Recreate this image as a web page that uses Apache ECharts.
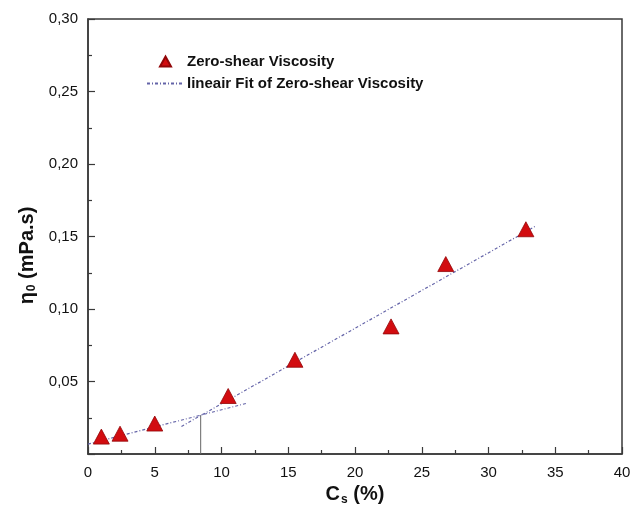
<!DOCTYPE html>
<html>
<head>
<meta charset="utf-8">
<script src="https://cdn.jsdelivr.net/npm/echarts@6/dist/echarts.min.js"></script>
<style>
  html, body { margin: 0; padding: 0; background: #fff; }
  #chart { width: 644px; height: 517px; }
</style>
</head>
<body>
<div id="chart"></div>
<script>
// Measured zero-shear viscosity against salt concentration
const cs = [1, 2.4, 5, 10.5, 15.5, 22.7, 26.8, 32.8];
const eta = [0.012, 0.014, 0.021, 0.040, 0.065, 0.088, 0.131, 0.155];

// Linear fit segments (high and low concentration ranges)
const fitHighX = [7, 33.5];
const fitHighY = [0.019, 0.157];
const fitLowX = [0, 11.9];
const fitLowY = [0.0068, 0.035];

// Crossover marker dropped to the x axis
const crossX = [8.44, 8.44];
const crossY = [0, 0.0267];

const xTicks = [0, 5, 10, 15, 20, 25, 30, 35, 40];
const yTicks = [0, 0.05, 0.10, 0.15, 0.20, 0.25, 0.30];

const pairs = (xs, ys) => xs.map((x, i) => [x, ys[i]]);

const FONT = '"Liberation Sans", Arial, Helvetica, sans-serif';
const AXIS_COLOR = '#3a3a3a';
const FIT_COLOR = '#6464a8';
const MARK_COLOR = '#d20c10';

const legendText = { fontFamily: FONT, fontSize: 15, fontWeight: 'bold', color: '#111' };
const titleRich = {
  b: { fontFamily: FONT, fontSize: 20, fontWeight: 'bold', color: '#111' },
  s: { fontFamily: FONT, fontSize: 12, fontWeight: 'bold', color: '#111', verticalAlign: 'bottom', padding: [9, 0, 0, 1] }
};

const chart = echarts.init(document.getElementById('chart'));
chart.setOption({
  animation: false,
  backgroundColor: '#fff',
  grid: {
    left: 88, right: 22, top: 19, bottom: 63,
    show: true, borderColor: AXIS_COLOR, borderWidth: 1.5
  },
  legend: [
    {
      left: 154, top: 49,
      itemWidth: 11, itemHeight: 10,
      data: [{ name: 'Zero-shear Viscosity', icon: 'triangle' }],
      textStyle: Object.assign({ padding: [0, 0, 0, 11] }, legendText)
    },
    {
      left: 141, top: 71,
      itemWidth: 35, itemHeight: 11,
      data: [{ name: 'lineair Fit of Zero-shear Viscosity', itemStyle: { opacity: 0 } }],
      textStyle: legendText
    }
  ],
  xAxis: {
    type: 'value',
    min: xTicks[0], max: xTicks[xTicks.length - 1], interval: 5,
    name: '{b|C}{s|s}{b| (%)}',
    nameLocation: 'middle', nameGap: 29,
    nameTextStyle: { rich: titleRich },
    axisLine: { show: true, lineStyle: { color: AXIS_COLOR, width: 1.5 } },
    axisTick: { show: true, inside: true, length: 7, lineStyle: { color: AXIS_COLOR, width: 1.2 } },
    minorTick: { show: true, splitNumber: 2, length: 4, lineStyle: { color: AXIS_COLOR, width: 1.2 } },
    splitLine: { show: false },
    axisLabel: { fontFamily: FONT, fontSize: 15, color: '#111', margin: 11 }
  },
  yAxis: {
    type: 'value',
    min: yTicks[0], max: yTicks[yTicks.length - 1], interval: 0.05,
    name: '{b|η}{s|0}{b| (mPa.s)}',
    nameLocation: 'middle', nameGap: 50, nameRotate: 90,
    nameTextStyle: { rich: titleRich, padding: [0, 38, 0, 0] },
    axisLine: { show: true, lineStyle: { color: AXIS_COLOR, width: 1.5 } },
    axisTick: { show: true, inside: true, length: 7, lineStyle: { color: AXIS_COLOR, width: 1.2 } },
    minorTick: { show: true, splitNumber: 2, length: 4, lineStyle: { color: AXIS_COLOR, width: 1.2 } },
    splitLine: { show: false },
    axisLabel: {
      fontFamily: FONT, fontSize: 15, color: '#111', margin: 10,
      formatter: v => (v === 0 ? '' : v.toFixed(2).replace('.', ','))
    }
  },
  series: [
    {
      name: 'lineair Fit of Zero-shear Viscosity',
      type: 'line',
      data: pairs(fitHighX, fitHighY),
      showSymbol: false, symbol: 'none',
      lineStyle: { color: FIT_COLOR, width: 1.2, type: [3, 2, 1, 2] },
      itemStyle: { color: FIT_COLOR },
      z: 2
    },
    {
      name: 'lineair Fit of Zero-shear Viscosity',
      type: 'line',
      data: pairs(fitLowX, fitLowY),
      showSymbol: false, symbol: 'none',
      lineStyle: { color: FIT_COLOR, width: 1.2, type: [3, 2, 1, 2] },
      itemStyle: { color: FIT_COLOR },
      z: 2
    },
    {
      name: 'crossover',
      type: 'line',
      data: pairs(crossX, crossY),
      showSymbol: false, symbol: 'none',
      lineStyle: { color: '#666', width: 1 },
      z: 2
    },
    {
      name: 'Zero-shear Viscosity',
      type: 'scatter',
      data: pairs(cs, eta),
      symbol: 'triangle',
      symbolSize: [16, 15],
      itemStyle: { color: MARK_COLOR, opacity: 1, borderColor: '#920608', borderWidth: 0.8 },
      z: 3
    }
  ]
});
</script>
</body>
</html>
